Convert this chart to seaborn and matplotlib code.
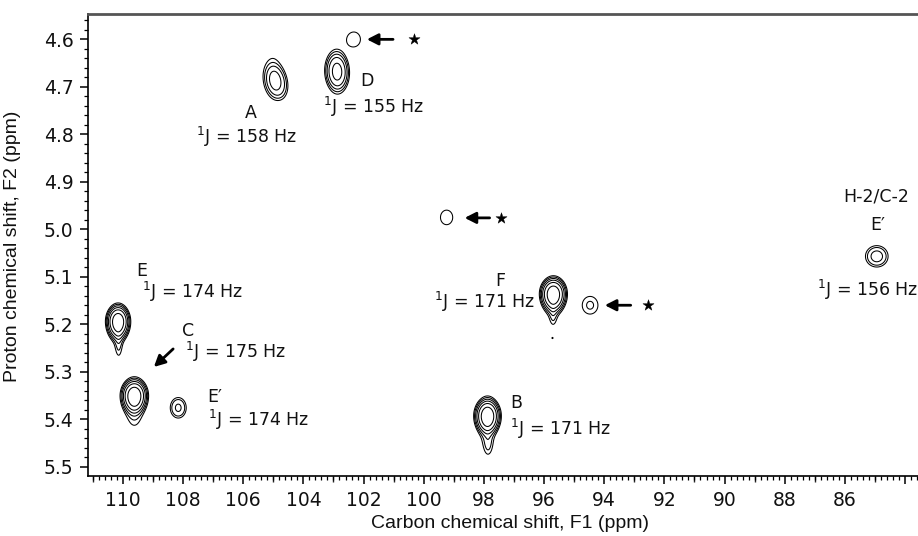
import numpy as np
import pandas as pd
import matplotlib
matplotlib.use("Agg")
import matplotlib.pyplot as plt
from matplotlib.ticker import MultipleLocator, FixedLocator
import seaborn as sns

# ---------------- data ----------------
# cross-peak cores: carbon (F1, ppm), proton (F2, ppm), widths (ppm), intensity
peak_names  = ["A", "D", "E", "C", "E'", "B", "F", "F-side", "H2C2 E'", "O1", "O2"]
peak_c      = [104.90, 102.88, 110.16, 109.62, 108.16, 97.88, 95.69, 94.47, 84.94, 102.32, 99.24]
peak_h      = [4.690, 4.668, 5.194, 5.350, 5.376, 5.393, 5.136, 5.160, 5.057, 4.600, 4.975]
peak_sc     = [0.245, 0.240, 0.229, 0.255, 0.198, 0.250, 0.255, 0.241, 0.272, 0.237, 0.224]
peak_sh_up  = [0.024, 0.025, 0.020, 0.020, 0.0161, 0.021, 0.020, 0.0172, 0.0163, 0.0169, 0.0169]
peak_sh_dn  = [0.024, 0.025, 0.022, 0.022, 0.0161, 0.022, 0.022, 0.0172, 0.0163, 0.0169, 0.0169]
peak_amp    = [3.0, 4.5, 8.0, 8.0, 2.34, 8.0, 8.0, 1.56, 2.54, 1.30, 1.30]
peak_shear  = [2.5, 0.5, 0, 0, 0, 0, 0, 0, 0, 0, 0]
peak_shape  = 1.5    # flat-topped line shape exponent

# vertical t1 streaks / tails of the peaks
tail_c   = [105.02, 102.88, 110.16, 110.14, 109.62, 97.88, 97.86, 95.69, 95.70, 95.72]
tail_h   = [4.672, 4.668, 5.205, 5.245, 5.370, 5.410, 5.455, 5.150, 5.185, 5.229]
tail_sc  = [0.26, 0.24, 0.19, 0.09, 0.22, 0.20, 0.11, 0.20, 0.09, 0.03]
tail_sh  = [0.040, 0.040, 0.030, 0.022, 0.034, 0.036, 0.018, 0.028, 0.016, 0.002]
tail_amp = [1.2, 1.2, 1.6, 1.2, 2.2, 2.0, 1.0, 1.8, 1.0, 1.15]

contour_levels = [1.0, 1.5, 2.25, 3.375, 5.06, 7.59, 11.4]

# annotations
labels_text = ["A", "$^{1}$J = 158 Hz", "D", "$^{1}$J = 155 Hz",
               "E", "$^{1}$J = 174 Hz", "C", "$^{1}$J = 175 Hz",
               "E\u2032", "$^{1}$J = 174 Hz", "H-2/C-2", "E\u2032", "$^{1}$J = 156 Hz",
               "F", "$^{1}$J = 171 Hz", "B", "$^{1}$J = 171 Hz"]
labels_c = [105.76, 105.89, 101.90, 103.34,
            109.38, 109.38, 107.83, 107.94,
            106.94, 107.16, 84.97, 84.92, 85.25,
            97.47, 96.30, 96.92, 97.13]
labels_h = [4.756, 4.805, 4.687, 4.743,
            5.087, 5.132, 5.215, 5.259,
            5.354, 5.402, 4.930, 4.990, 5.127,
            5.108, 5.153, 5.366, 5.421]
labels_ha = ["center", "center", "center", "left",
             "center", "left", "center", "left",
             "center", "left", "center", "center", "center",
             "center", "right", "center", "left"]

# stars and arrows pointing to artefact peaks
star_c = [100.32, 97.44, 92.54]
star_h = [4.600, 4.976, 5.160]
arrow_from_c = [101.02, 97.81, 93.12, 108.33]
arrow_from_h = [4.600, 4.976, 5.160, 5.252]
arrow_to_c   = [101.89, 98.64, 93.98, 108.97]
arrow_to_h   = [4.600, 4.976, 5.160, 5.290]

x_limits = (111.16, 83.57)
y_limits = (5.519, 4.5466)

# ---------------- build spectrum surface ----------------
cc = np.arange(83.4, 111.3, 0.012)
hh = np.arange(4.53, 5.53, 0.0007)
C, H = np.meshgrid(cc, hh)
Z = np.zeros_like(C)
for x0, y0, sx, su, sd, a, sk in zip(peak_c, peak_h, peak_sc, peak_sh_up, peak_sh_dn, peak_amp, peak_shear):
    dy = H - y0
    dx = (C - x0) + sk * dy
    sy = np.where(dy < 0, su, sd)
    u = 0.5 * ((dx / sx) ** 2 + (dy / sy) ** 2)
    Z += a * np.exp(-u ** peak_shape)
for x0, y0, sx, sy, a in zip(tail_c, tail_h, tail_sc, tail_sh, tail_amp):
    Z += a * np.exp(-0.5 * (((C - x0) / sx) ** 2 + ((H - y0) / sy) ** 2))

# ---------------- figure ----------------
sns.set_theme(style="ticks")
plt.rcParams["font.family"] = ["DejaVu Sans"]
plt.rcParams["mathtext.fontset"] = "dejavusans"

fig = plt.figure(figsize=(9.18, 5.36), dpi=100)
ax = fig.add_axes([88 / 918, 1 - 475.7 / 536, 1 - 88 / 918, (475.7 - 14) / 536])

ax.contour(C, H, Z, levels=contour_levels, colors="black", linewidths=0.75)

stars = pd.DataFrame({"c": star_c, "h": star_h})
sns.scatterplot(data=stars, x="c", y="h", marker="*", s=70, color="black",
                edgecolor="black", linewidth=0.3, ax=ax, legend=False)

for x0, y0, x1, y1 in zip(arrow_from_c, arrow_from_h, arrow_to_c, arrow_to_h):
    ax.annotate("", xy=(x1, y1), xytext=(x0, y0),
                arrowprops=dict(arrowstyle="-|>,head_length=0.55,head_width=0.28",
                                color="black", lw=2.0, shrinkA=0, shrinkB=0))

for t, x0, y0, ha in zip(labels_text, labels_c, labels_h, labels_ha):
    ax.text(x0, y0, t, ha=ha, va="center", fontsize=12.5, color="#111111")

ax.set_xlim(*x_limits)
ax.set_ylim(*y_limits)

# spines
ax.spines["right"].set_visible(False)
ax.spines["top"].set_color("#555555")
ax.spines["top"].set_linewidth(2.0)
ax.spines["left"].set_color("black")
ax.spines["bottom"].set_color("black")
ax.spines["left"].set_linewidth(1.2)
ax.spines["bottom"].set_linewidth(1.2)

# ticks
ax.xaxis.set_major_locator(MultipleLocator(2))
ax.xaxis.set_minor_locator(MultipleLocator(0.2))
ax.yaxis.set_major_locator(MultipleLocator(0.1))
ax.yaxis.set_minor_locator(MultipleLocator(0.02))
ax.tick_params(axis="both", which="major", length=6, width=1.1, color="black",
               labelsize=13.5, labelcolor="#111111")
ax.tick_params(axis="x", which="major", pad=5)
ax.tick_params(axis="y", which="major", pad=4.5)
ax.tick_params(axis="both", which="minor", length=3, width=0.9, color="black")
ax.xaxis.set_major_formatter(plt.FuncFormatter(lambda v, p: f"{v:.0f}" if v > 85 else ""))
ax.yaxis.set_major_formatter(plt.FuncFormatter(lambda v, p: f"{v:.1f}"))

sec = ax.secondary_xaxis("bottom")
sec.xaxis.set_major_locator(FixedLocator(np.arange(83, 112, 2)))
sec.tick_params(axis="x", which="major", length=4.5, width=1.0, labelbottom=False)
sec.spines["bottom"].set_visible(False)

ax.set_xlabel("Carbon chemical shift, F1 (ppm)", family=["Liberation Sans"],
              fontsize=14, color="#111111")
ax.set_ylabel("Proton chemical shift, F2 (ppm)", family=["Liberation Sans"],
              fontsize=14, color="#111111")
ax.xaxis.set_label_coords(0.508, -0.086)
ax.yaxis.set_label_coords(-0.081, 0.4975)

fig.savefig("out.png", dpi=100)
